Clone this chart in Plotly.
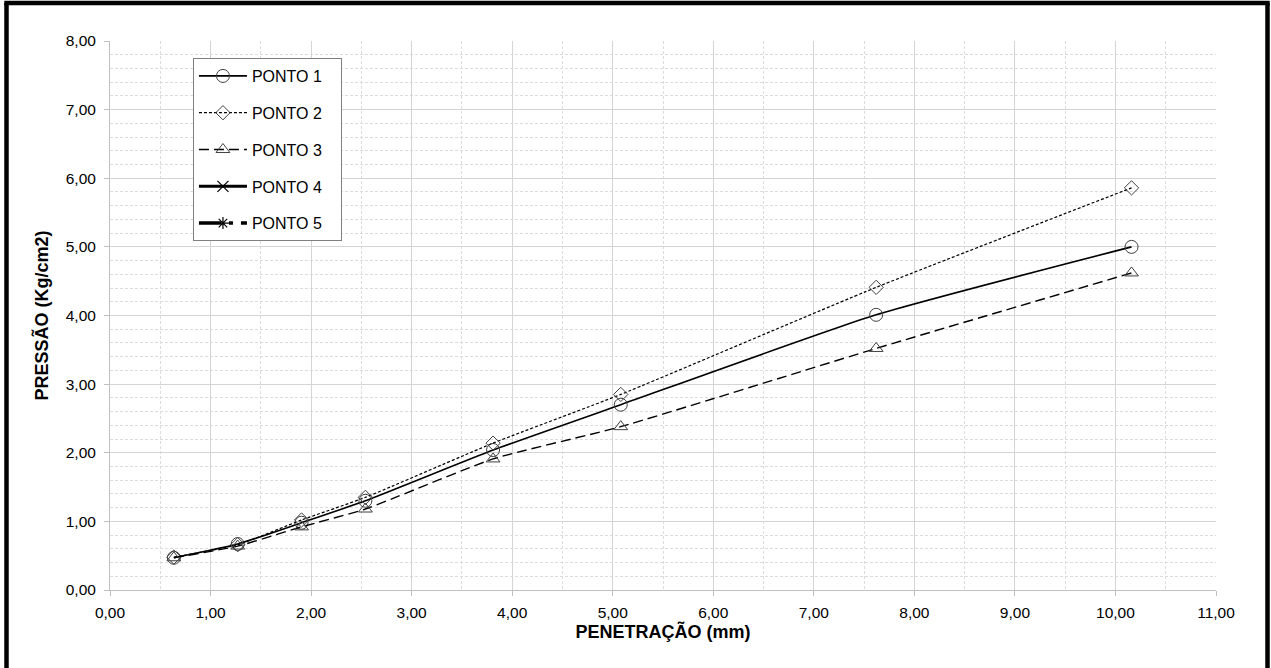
import plotly.graph_objects as go

# Data
penetracao = [0.635, 1.27, 1.905, 2.54, 3.81, 5.08, 7.62, 10.16]
ponto1 = [0.47, 0.67, 0.98, 1.30, 2.04, 2.70, 4.01, 5.00]
ponto2 = [0.48, 0.66, 1.02, 1.35, 2.14, 2.85, 4.41, 5.86]
ponto3 = [0.47, 0.64, 0.92, 1.18, 1.91, 2.38, 3.52, 4.62]
ponto4 = [None]
ponto5 = [None]
series_names = ["PONTO 1", "PONTO 2", "PONTO 3", "PONTO 4", "PONTO 5"]

x_ticks = [0, 1, 2, 3, 4, 5, 6, 7, 8, 9, 10, 11]
x_ticklabels = ["0,00", "1,00", "2,00", "3,00", "4,00", "5,00", "6,00", "7,00", "8,00", "9,00", "10,00", "11,00"]
y_ticks = [0, 1, 2, 3, 4, 5, 6, 7, 8]
y_ticklabels = ["0,00", "1,00", "2,00", "3,00", "4,00", "5,00", "6,00", "7,00", "8,00"]

FONT = "Liberation Sans, Arial, sans-serif"
MK = "#404040"
PAD = "\u00a0" * 3  # right padding inside the legend box

fig = go.Figure()
fig.add_trace(go.Scatter(
    x=penetracao, y=ponto1, name=series_names[0] + PAD, mode="lines+markers", legendgroup="1",
    line=dict(color="black", width=1.6, shape="spline", smoothing=0.5),
    marker=dict(symbol="circle-open", size=13, color=MK, line=dict(width=1, color=MK))))
fig.add_trace(go.Scatter(
    x=penetracao, y=ponto2, name=series_names[1] + PAD, mode="lines+markers", legendgroup="2",
    line=dict(color="black", width=1.2, dash="3px,2px", shape="spline", smoothing=0.5),
    marker=dict(symbol="diamond-open", size=11, color=MK, line=dict(width=1, color=MK))))
fig.add_trace(go.Scatter(
    x=penetracao, y=ponto3, name=series_names[2] + PAD, mode="lines+markers", legendgroup="3",
    line=dict(color="black", width=1.4, dash="10px,5px", shape="spline", smoothing=0.5),
    marker=dict(symbol="triangle-up-open", size=12, color=MK, line=dict(width=1, color=MK))))
fig.add_trace(go.Scatter(
    x=[None], y=ponto4, name=series_names[3] + PAD, mode="lines+markers", legendgroup="4",
    line=dict(color="black", width=3),
    marker=dict(symbol="x-thin-open", size=11, color="black", line=dict(width=1.2, color="black"))))
fig.add_trace(go.Scatter(
    x=[None], y=ponto5, name=series_names[4] + PAD, mode="lines+markers", legendgroup="5",
    line=dict(color="black", width=3.5, dash="22px,8px,4px,8px"),
    marker=dict(symbol="asterisk-open", size=10, color="black", line=dict(width=1.2, color="black"))))

# outer border (left, top, right)
xl = (6.5 - 110) / 1106
xr = (1267.5 - 110) / 1106
yt = (590 - 3) / 549
yb = (590 - 680) / 549
for x0, y0, x1, y1 in [(xl, yb, xl, yt), (xl - 0.002, yt, xr + 0.002, yt), (xr, yt, xr, yb)]:
    fig.add_shape(type="line", xref="paper", yref="paper", x0=x0, y0=y0, x1=x1, y1=y1,
                  line=dict(color="black", width=4.5))

fig.update_layout(
    width=1271, height=668,
    margin=dict(l=110, r=55, t=41, b=78),
    paper_bgcolor="white", plot_bgcolor="white",
    font=dict(family=FONT, size=15.5, color="black"),
    showlegend=True,
    legend=dict(
        x=0.075, y=0.969, xanchor="left", yanchor="top",
        bgcolor="white", bordercolor="#808080", borderwidth=1,
        font=dict(family=FONT, size=16, color="black"),
        itemwidth=48, tracegroupgap=13, traceorder="grouped",
    ),
    xaxis=dict(
        range=[0, 11], tickvals=x_ticks, ticktext=x_ticklabels,
        showgrid=True, gridcolor="#d4d4d4", gridwidth=1,
        minor=dict(dtick=0.5, showgrid=True, gridcolor="#dcdcdc", griddash="3px,2px", gridwidth=1),
        showline=True, linecolor="#c0c0c0", linewidth=1,
        ticks="outside", ticklen=5, tickcolor="#c0c0c0",
        zeroline=False, ticklabelstandoff=3,
        tickfont=dict(family=FONT, size=15.5),
        title=dict(text="<b>PENETRAÇÃO (mm)</b>", font=dict(family=FONT, size=18), standoff=0),
    ),
    yaxis=dict(
        range=[0, 8], tickvals=y_ticks, ticktext=y_ticklabels,
        showgrid=True, gridcolor="#d4d4d4", gridwidth=1,
        minor=dict(dtick=0.2, showgrid=True, gridcolor="#dcdcdc", griddash="3px,2px", gridwidth=1),
        showline=True, linecolor="#c0c0c0", linewidth=1,
        ticks="outside", ticklen=5, tickcolor="#c0c0c0",
        zeroline=False, ticklabelstandoff=5,
        tickfont=dict(family=FONT, size=15.5),
        title=dict(text="<b>PRESSÃO (Kg/cm2)</b>", font=dict(family=FONT, size=18), standoff=12),
    ),
)

fig.write_html("out.html", config={"displayModeBar": False},
               post_script="document.body.style.margin='0';document.body.style.overflow='hidden';")
